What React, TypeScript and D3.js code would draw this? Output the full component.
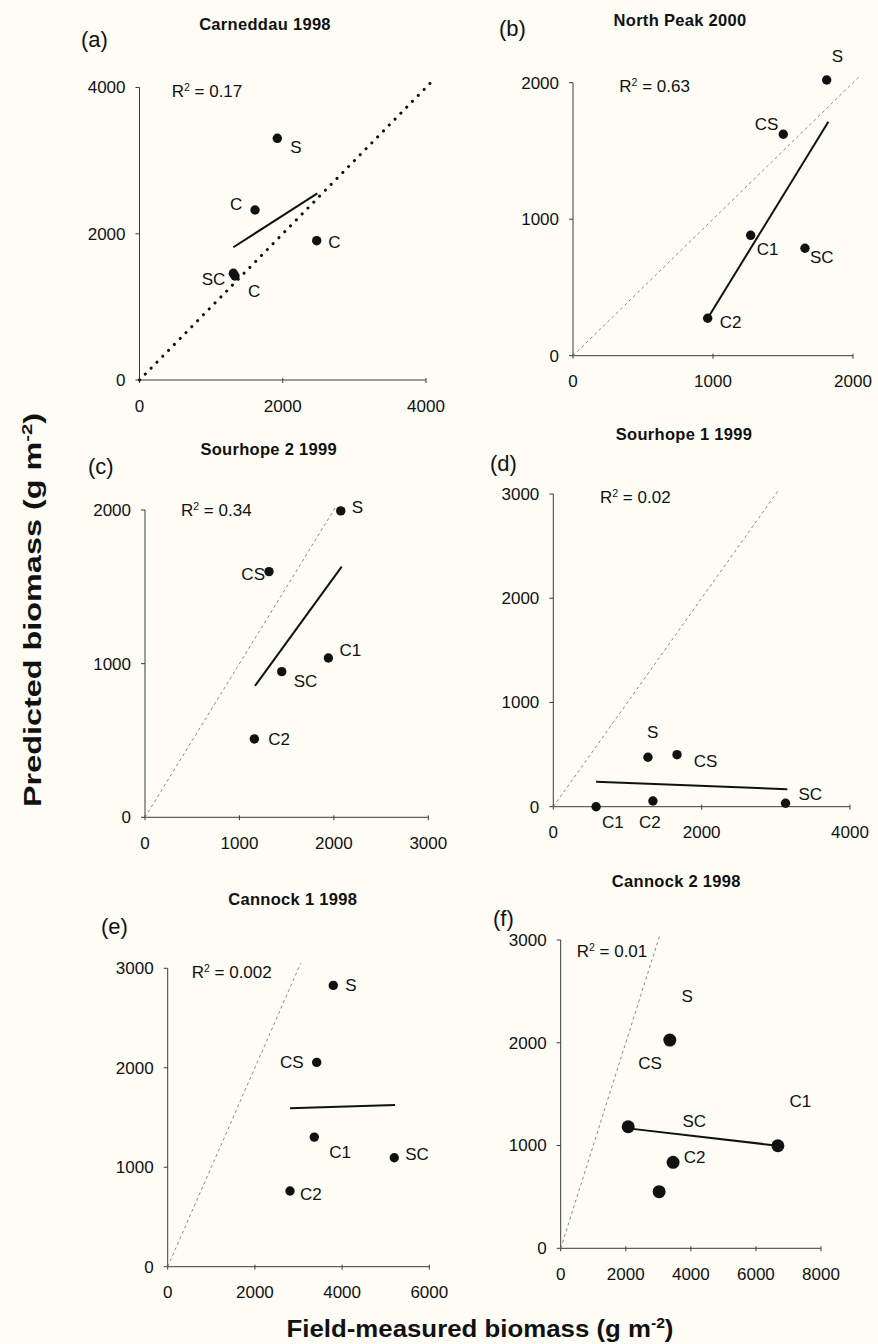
import React from 'react';
import * as d3 from 'd3';

// ---------------- DATA ----------------
// (a) Carneddau 1998
const aNames = ['S', 'C', 'C', 'SC', 'C'];
const aField = [1924, 1613, 2474, 1310, 1333];
const aPred = [3305, 2325, 1905, 1459, 1422];
const aFitX = [1310, 2483];
const aFitY = [1815, 2553];
const aXTicks = [0, 2000, 4000];
const aYTicks = [0, 2000, 4000];
const aXDomain = [0, 4000];
const aYDomain = [0, 4000];
const aOneToOne = [0, 4080];

// (b) North Peak 2000
const bNames = ['S', 'CS', 'C1', 'SC', 'C2'];
const bField = [1812, 1502, 1269, 1657, 962];
const bPred = [2020, 1622, 882, 787, 274];
const bFitX = [962, 1824];
const bFitY = [274, 1714];
const bXTicks = [0, 1000, 2000];
const bYTicks = [0, 1000, 2000];
const bXDomain = [0, 2000];
const bYDomain = [0, 2000];
const bOneToOne = [0, 2040];

// (c) Sourhope 2 1999
const cNames = ['S', 'CS', 'C1', 'SC', 'C2'];
const cField = [2073, 1313, 1942, 1448, 1158];
const cPred = [1994, 1599, 1037, 948, 510];
const cFitX = [1165, 2083];
const cFitY = [855, 1632];
const cXTicks = [0, 1000, 2000, 3000];
const cYTicks = [0, 1000, 2000];
const cXDomain = [0, 3000];
const cYDomain = [0, 2000];
const cOneToOne = [0, 2030];

// (d) Sourhope 1 1999
const dNames = ['S', 'CS', 'C1', 'C2', 'SC'];
const dField = [1276, 1668, 577, 1343, 3131];
const dPred = [474, 499, 0, 55, 33];
const dFitX = [577, 3154];
const dFitY = [240, 167];
const dXTicks = [0, 2000, 4000];
const dYTicks = [0, 1000, 2000, 3000];
const dXDomain = [0, 4000];
const dYDomain = [0, 3000];
const dOneToOne = [0, 3050];

// (e) Cannock 1 1998
const eNames = ['S', 'CS', 'C1', 'SC', 'C2'];
const eField = [3798, 3417, 3362, 5197, 2805];
const ePred = [2828, 2054, 1303, 1095, 761];
const eFitX = [2805, 5213];
const eFitY = [1592, 1625];
const eXTicks = [0, 2000, 4000, 6000];
const eYTicks = [0, 1000, 2000, 3000];
const eXDomain = [0, 6000];
const eYDomain = [0, 3000];
const eOneToOne = [0, 3050];

// (f) Cannock 2 1998
const fNames = ['S', 'CS', 'C1', 'SC', 'C2'];
const fField = [3353, 2074, 6675, 3454, 3025];
const fPred = [2026, 1183, 998, 837, 551];
const fFitX = [2074, 6675];
const fFitY = [1167, 998];
const fXTicks = [0, 2000, 4000, 6000, 8000];
const fYTicks = [0, 1000, 2000, 3000];
const fXDomain = [0, 8000];
const fYDomain = [0, 3000];
const fOneToOne = [0, 3050];

// ---------------- LAYOUT / STYLE ----------------
const FONT = "'Liberation Sans', Arial, Helvetica, sans-serif";
const BG = '#fdfdf6';
const TEXT = '#111';

// label offsets (pixels from the point): dx, dy(baseline), anchor
const aLabelOffsets: [number, number, string][] = [[13, 15, 'start'], [-25, 0, 'start'], [11.5, 7.5, 'start'], [-8, 11.7, 'end'], [13, 20.7, 'start']];
const bLabelOffsets: [number, number, string][] = [[5, -18, 'start'], [-5, -4, 'end'], [6, 20, 'start'], [5, 15, 'start'], [12, 10, 'start']];
const cLabelOffsets: [number, number, string][] = [[11, 2, 'start'], [-4, 8.5, 'end'], [11, -2, 'start'], [12, 15, 'start'], [14, 6, 'start']];
const dLabelOffsets: [number, number, string][] = [[-1, -19, 'start'], [16.7, 12, 'start'], [6, 21.6, 'start'], [-14, 27, 'start'], [13, -3, 'start']];
const eLabelOffsets: [number, number, string][] = [[12, 6, 'start'], [-13, 6, 'end'], [15, 20.7, 'start'], [11, 2.3, 'start'], [10, 9, 'start']];
const fLabelOffsets: [number, number, string][] = [[11.7, -38.3, 'start'], [10, -57.4, 'start'], [11.7, -38.4, 'start'], [9.4, -35.6, 'start'], [24.7, -28.4, 'start']];

interface Panel {
  letter: string; title: string; r2: string;
  names: string[]; field: number[]; pred: number[];
  fitX: number[]; fitY: number[];
  xTicks: number[]; yTicks: number[]; xDomain: number[]; yDomain: number[];
  oneToOne: number[]; labelOffsets: [number, number, string][];
  left: number; right: number; bottom: number; top: number;
  titleX: number; titleY: number; letterX: number; letterY: number;
  r2X: number; r2Y: number; pointR: number; heavyDots: boolean;
}

const panels: Panel[] = [
  { letter: '(a)', title: 'Carneddau 1998', r2: '0.17', names: aNames, field: aField, pred: aPred, fitX: aFitX, fitY: aFitY,
    xTicks: aXTicks, yTicks: aYTicks, xDomain: aXDomain, yDomain: aYDomain, oneToOne: aOneToOne, labelOffsets: aLabelOffsets,
    left: 139.5, right: 426, bottom: 380, top: 87.5, titleX: 265, titleY: 30, letterX: 81, letterY: 47,
    r2X: 171.7, r2Y: 96.7, pointR: 4.7, heavyDots: true },
  { letter: '(b)', title: 'North Peak 2000', r2: '0.63', names: bNames, field: bField, pred: bPred, fitX: bFitX, fitY: bFitY,
    xTicks: bXTicks, yTicks: bYTicks, xDomain: bXDomain, yDomain: bYDomain, oneToOne: bOneToOne, labelOffsets: bLabelOffsets,
    left: 573, right: 853, bottom: 355.7, top: 82.7, titleX: 680, titleY: 26, letterX: 499, letterY: 36,
    r2X: 619.3, r2Y: 91.7, pointR: 4.7, heavyDots: false },
  { letter: '(c)', title: 'Sourhope 2 1999', r2: '0.34', names: cNames, field: cField, pred: cPred, fitX: cFitX, fitY: cFitY,
    xTicks: cXTicks, yTicks: cYTicks, xDomain: cXDomain, yDomain: cYDomain, oneToOne: cOneToOne, labelOffsets: cLabelOffsets,
    left: 145, right: 428.3, bottom: 817.3, top: 510, titleX: 268.7, titleY: 455, letterX: 88, letterY: 474,
    r2X: 181, r2Y: 516, pointR: 4.7, heavyDots: false },
  { letter: '(d)', title: 'Sourhope 1 1999', r2: '0.02', names: dNames, field: dField, pred: dPred, fitX: dFitX, fitY: dFitY,
    xTicks: dXTicks, yTicks: dYTicks, xDomain: dXDomain, yDomain: dYDomain, oneToOne: dOneToOne, labelOffsets: dLabelOffsets,
    left: 553.3, right: 850, bottom: 806.7, top: 494, titleX: 684, titleY: 440, letterX: 490, letterY: 471,
    r2X: 600, r2Y: 502.7, pointR: 4.7, heavyDots: false },
  { letter: '(e)', title: 'Cannock 1 1998', r2: '0.002', names: eNames, field: eField, pred: ePred, fitX: eFitX, fitY: eFitY,
    xTicks: eXTicks, yTicks: eYTicks, xDomain: eXDomain, yDomain: eYDomain, oneToOne: eOneToOne, labelOffsets: eLabelOffsets,
    left: 167.7, right: 429.3, bottom: 1266.7, top: 968.3, titleX: 292.7, titleY: 905, letterX: 101, letterY: 934,
    r2X: 191.7, r2Y: 978.3, pointR: 4.7, heavyDots: false },
  { letter: '(f)', title: 'Cannock 2 1998', r2: '0.01', names: fNames, field: fField, pred: fPred, fitX: fFitX, fitY: fFitY,
    xTicks: fXTicks, yTicks: fYTicks, xDomain: fXDomain, yDomain: fYDomain, oneToOne: fOneToOne, labelOffsets: fLabelOffsets,
    left: 560.7, right: 821, bottom: 1248.3, top: 940, titleX: 676.3, titleY: 886.7, letterX: 493, letterY: 926,
    r2X: 576.7, r2Y: 957.3, pointR: 6.5, heavyDots: false },
];

function PanelView({ p }: { p: Panel }) {
  const x = d3.scaleLinear().domain(p.xDomain).range([p.left, p.right]);
  const y = d3.scaleLinear().domain(p.yDomain).range([p.bottom, p.top]);
  const line = d3.line<[number, number]>().x((d) => x(d[0])).y((d) => y(d[1]));
  const fitPts: [number, number][] = p.fitX.map((v, i) => [v, p.fitY[i]]);
  const onePts: [number, number][] = [[p.oneToOne[0], p.oneToOne[0]], [p.oneToOne[1], p.oneToOne[1]]];
  const axisColor = '#3a3a3a';
  return (
    <g fontFamily={FONT} fill={TEXT}>
      <text x={p.titleX} y={p.titleY} textAnchor="middle" fontWeight="bold" fontSize={16.5} letterSpacing={0.3}>{p.title}</text>
      <text x={p.letterX} y={p.letterY} fontSize={22}>{p.letter}</text>
      {/* axes */}
      <line x1={x(p.xDomain[0])} x2={x(p.xDomain[1])} y1={y(0)} y2={y(0)} stroke={axisColor} strokeWidth={1} />
      <line x1={x(0)} x2={x(0)} y1={y(p.yDomain[0])} y2={y(p.yDomain[1])} stroke={axisColor} strokeWidth={1} />
      {p.xTicks.map((t) => (
        <g key={'xt' + t}>
          <line x1={x(t)} x2={x(t)} y1={y(0) - 2} y2={y(0) + 3} stroke={axisColor} strokeWidth={1} />
          <text x={x(t)} y={y(0) + 31.5} textAnchor="middle" fontSize={17}>{d3.format('d')(t)}</text>
        </g>
      ))}
      {p.yTicks.map((t) => (
        <g key={'yt' + t}>
          <line x1={x(0) - 4} x2={x(0)} y1={y(t)} y2={y(t)} stroke={axisColor} strokeWidth={1} />
          <text x={x(0) - 14} y={y(t)} dy="0.35em" textAnchor="end" fontSize={17}>{d3.format('d')(t)}</text>
        </g>
      ))}
      {/* 1:1 line */}
      {p.heavyDots ? (
        <path d={line(onePts) || ''} stroke="#111" strokeWidth={3} strokeDasharray="0.1 8.2" strokeLinecap="round" fill="none" />
      ) : (
        <path d={line(onePts) || ''} stroke="#8a8a8a" strokeWidth={1} strokeDasharray="3 3" fill="none" />
      )}
      {/* fitted line */}
      <path d={line(fitPts) || ''} stroke="#111" strokeWidth={2} fill="none" />
      {/* R2 */}
      <text x={p.r2X} y={p.r2Y} fontSize={17}>
        R<tspan dy={-6} fontSize={10.5}>2</tspan><tspan dy={6}> = {p.r2}</tspan>
      </text>
      {/* points */}
      {p.field.map((fx, i) => (
        <circle key={'pt' + i} cx={x(fx)} cy={y(p.pred[i])} r={p.pointR} fill="#111" />
      ))}
      {p.field.map((fx, i) => {
        const [dx, dy, anchor] = p.labelOffsets[i];
        return (
          <text key={'lb' + i} x={x(fx) + dx} y={y(p.pred[i]) + dy} textAnchor={anchor} fontSize={17}>{p.names[i]}</text>
        );
      })}
    </g>
  );
}

export default function App() {
  return (
    <svg width={878} height={1344} style={{ position: 'absolute', left: 0, top: 0, display: 'block' }}>
      <rect x={0} y={0} width={878} height={1344} fill={BG} />
      {panels.map((p) => <PanelView key={p.letter} p={p} />)}
      <text transform="translate(41,610) rotate(-90)" textAnchor="middle" fontFamily={FONT} fontWeight="bold" fontSize={24}
        fill={TEXT} textLength={394} lengthAdjust="spacingAndGlyphs">
        Predicted biomass (g m<tspan dy={-9} fontSize={15}>-2</tspan><tspan dy={9}>)</tspan>
      </text>
      <text x={480} y={1337} textAnchor="middle" fontFamily={FONT} fontWeight="bold" fontSize={23}
        fill={TEXT} textLength={387} lengthAdjust="spacingAndGlyphs">
        Field-measured biomass (g m<tspan dy={-9} fontSize={14}>-2</tspan><tspan dy={9}>)</tspan>
      </text>
    </svg>
  );
}
